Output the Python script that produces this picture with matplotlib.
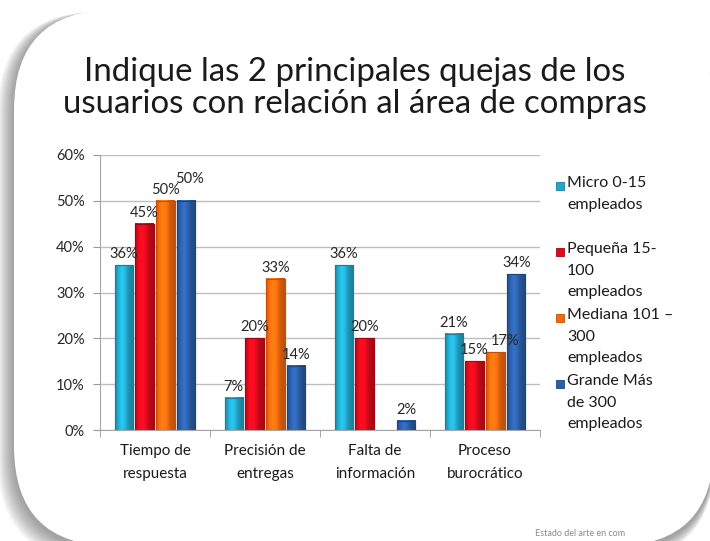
import matplotlib.pyplot as plt
import numpy as np
from matplotlib.patches import FancyBboxPatch, Rectangle
from matplotlib.colors import to_rgb

plt.rcParams['font.family'] = ['Lato', 'DejaVu Sans']

categories = ['Tiempo de\nrespuesta', 'Precisión de\nentregas', 'Falta de\ninformación', 'Proceso\nburocrático']
series_names = ['Micro 0-15\nempleados', 'Pequeña 15-\n100\nempleados', 'Mediana 101 –\n300\nempleados', 'Grande Más\nde 300\nempleados']
micro = [0.36, 0.07, 0.36, 0.21]
pequena = [0.45, 0.20, 0.20, 0.15]
mediana = [0.50, 0.33, np.nan, 0.17]
grande = [0.50, 0.14, 0.02, 0.34]
yticks = [0, 0.1, 0.2, 0.3, 0.4, 0.5, 0.6]

colors = ['#22a6c9', '#dc0a1c', '#f36a0e', '#2b5ea6']
edges = ['#16809c', '#a00612', '#c14f06', '#1d4480']

fig = plt.figure(figsize=(7.1, 5.41), dpi=100)
fig.patch.set_facecolor('white')

# slide background: rounded white card with soft shadow on left / bottom
bg = fig.add_axes([0, 0, 1, 1], zorder=0)
bg.set_xlim(0, 710)
bg.set_ylim(541, 0)
bg.axis('off')
for i in range(16, 0, -1):
    sh = FancyBboxPatch((14 - i, 12), 700 + i, 536 + i * 0.8,
                        boxstyle='round,pad=0,rounding_size=100',
                        fc='#555555', ec='none', alpha=0.045)
    bg.add_patch(sh)
card = FancyBboxPatch((14, 10), 700, 536, boxstyle='round,pad=0,rounding_size=100',
                      fc='white', ec='none')
bg.add_patch(card)

fig.text(0.5, 1 - 72 / 541, 'Indique las 2 principales quejas de los', ha='center', va='center',
         fontsize=23.8, color='#1a1a1a')
fig.text(0.5, 1 - 104 / 541, 'usuarios con relación al área de compras', ha='center', va='center',
         fontsize=23.8, color='#1a1a1a')
fig.text(535 / 710, 1 - 533 / 541, 'Estado del arte en com', fontsize=6.5, color='#8a8a8a',
         ha='left', va='center')

ax = fig.add_axes([100 / 710, 1 - 430 / 541, 440 / 710, 275 / 541], zorder=1)
ax.patch.set_alpha(0)

x = np.arange(len(categories))
step = 0.19
width = 0.165

# horizontal shading profile to mimic the cylinder-like bars
prof_x = np.linspace(0, 1, 40)
shade = 0.78 + 0.42 * np.exp(-((prof_x - 0.38) / 0.3) ** 2)

for k, vals in enumerate([micro, pequena, mediana, grande]):
    bars = ax.bar(x + (k - 1.5) * step, vals, width, color=colors[k], edgecolor=edges[k],
                  linewidth=0.8, zorder=3)
    base = np.array(to_rgb(colors[k]))
    grad = np.clip(base[None, :] * shade[:, None], 0, 1)[None, :, :]
    for j, b in enumerate(bars):
        v = vals[j]
        if np.isnan(v):
            continue
        x0 = b.get_x()
        ax.imshow(grad, extent=(x0, x0 + b.get_width(), 0, v), aspect='auto', zorder=3.5,
                  interpolation='bilinear')
        ax.add_patch(Rectangle((x0, 0), b.get_width(), v, fc='none', ec=edges[k], lw=0.8,
                               zorder=3.6))
        dx, dy = 0, 3
        if k == 3 and j == 0:
            dx, dy = 2, 11
        if k == 2 and j == 3:
            dx, dy = 7, 3
        ax.annotate(f'{v * 100:.0f}%', (x0 + b.get_width() / 2, v), xytext=(dx, dy),
                    textcoords='offset points', ha='center', va='bottom', fontsize=10.5,
                    color='#262626', zorder=4)

ax.set_xlim(-0.5, 3.5)
ax.set_ylim(0, 0.6)
ax.set_yticks(yticks)
ax.set_yticklabels([f'{t * 100:.0f}%' for t in yticks], fontsize=10.5, color='#262626')
ax.set_xticks(x)
ax.set_xticklabels(categories, fontsize=11, color='#1a1a1a', linespacing=1.85)
ax.set_xticks(np.arange(-0.5, 4, 1), minor=True)
ax.tick_params(axis='x', which='major', length=0, pad=10)
ax.tick_params(axis='x', which='minor', length=5, color='#999999', direction='out')
ax.tick_params(axis='y', length=5, color='#999999', pad=6)
ax.grid(axis='y', color='#bdbdbd', linewidth=1, zorder=0)
for s in ['top', 'right']:
    ax.spines[s].set_visible(False)
for s in ['left', 'bottom']:
    ax.spines[s].set_color('#a6a6a6')
    ax.spines[s].set_zorder(5)

# legend: each entry takes three text lines
for k, name in enumerate(series_names):
    y = 186 + k * 66
    bg.add_patch(Rectangle((556, y - 4), 8, 8, fc=colors[k], ec=edges[k], lw=0.6, zorder=2))
    bg.text(567, y - 10, name, fontsize=11.5, color='#1a1a1a', va='top', ha='left',
            linespacing=1.7, zorder=2)

fig.savefig('out.png', dpi=100)
